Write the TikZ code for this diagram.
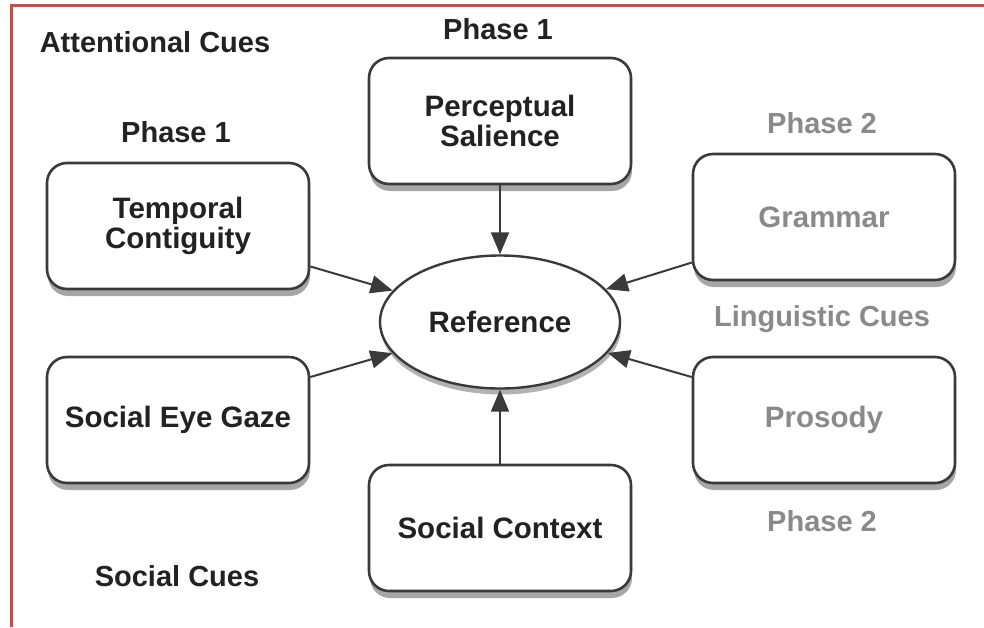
\documentclass[tikz,border=0pt]{standalone}
\usepackage{fontspec}
\setmainfont{Liberation Sans}
\usetikzlibrary{shapes.geometric,arrows.meta,shadows}
\definecolor{framered}{HTML}{C0504D}
\definecolor{ink}{HTML}{222222}
\definecolor{paleink}{HTML}{8A8A8A}
\definecolor{edgeink}{HTML}{3A3A3A}
\tikzset{
  cuebox/.style={draw=edgeink, line width=2.6pt, rounded corners=20pt, fill=white,
    minimum width=262pt, minimum height=126pt, inner sep=0pt, align=center,
    font=\fontsize{29.5}{30}\selectfont\bfseries, text=ink,
    drop shadow={shadow xshift=1pt, shadow yshift=-7pt, opacity=0.35, fill=black}},
  palebox/.style={cuebox, text=paleink},
  refnode/.style={ellipse, draw=edgeink, line width=2.4pt, fill=white,
    minimum width=240pt, minimum height=133pt, inner sep=0pt,
    font=\fontsize{29.5}{30}\selectfont\bfseries, text=ink,
    drop shadow={shadow xshift=1pt, shadow yshift=-6pt, opacity=0.3, fill=black}},
  lbl/.style={font=\fontsize{29}{30}\selectfont\bfseries, text=ink, inner sep=0pt},
  palelbl/.style={lbl, text=paleink},
  link/.style={draw=edgeink, line width=2pt, -{Triangle[length=22pt,width=18pt]}},
}
\begin{document}
\begin{tikzpicture}[x=1pt,y=-1pt]
\useasboundingbox (0,0) rectangle (984,627);
\fill[white] (0,0) rectangle (984,627);
\draw[framered, line width=3pt] (984,5) -- (11,5) -- (11,627);

\node[cuebox] (percept) at (500,121) {Perceptual\\Salience};
\node[cuebox] (temporal) at (178,226) {Temporal\\Contiguity};
\node[palebox] (grammar) at (824,217) {Grammar};
\node[cuebox] (gaze) at (178,420) {Social Eye Gaze};
\node[palebox] (prosody) at (824,420) {Prosody};
\node[cuebox] (context) at (500,528) {Social Context};
\node[refnode] (ref) at (500,322) {Reference};

\node[lbl] (attn) at (155,42) {Attentional Cues};
\node[lbl] (ph1top) at (498,29) {Phase 1};
\node[lbl] (ph1left) at (176,132) {Phase 1};
\node[palelbl] (ph2top) at (822,123) {Phase 2};
\node[palelbl] (ling) at (822,319) {Linguistic Cues};
\node[palelbl] (ph2bot) at (822,521) {Phase 2};
\node[lbl] (social) at (177,576) {Social Cues};

\draw[link] (percept.south) -- (ref.north);
\draw[link] (context.north) -- (ref.south);
\draw[link] (temporal.-17) -- (ref);
\draw[link] (grammar.199) -- (ref);
\draw[link] (gaze.18) -- (ref);
\draw[link] (prosody.162) -- (ref);
\end{tikzpicture}
\end{document}
